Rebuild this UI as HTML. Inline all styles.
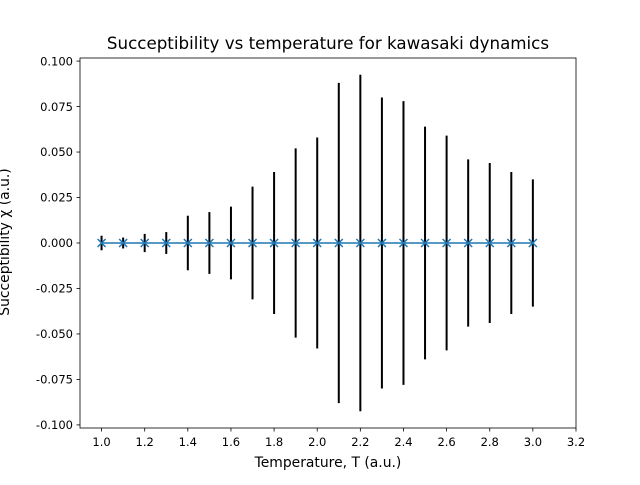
<!DOCTYPE html>
<html><head><meta charset="utf-8"><style>
body{margin:0;background:#fff;}
svg text{font-family:"DejaVu Sans","Liberation Sans",sans-serif;}
</style></head><body>
<svg id="chart" width="640" height="480" xmlns="http://www.w3.org/2000/svg">
<rect width="640" height="480" fill="#fff"/>
<text x="328" y="49" font-size="16.7" text-anchor="middle">Succeptibility vs temperature for kawasaki dynamics</text>
<text x="328" y="467" font-size="13.9" text-anchor="middle">Temperature, T (a.u.)</text>
<text transform="translate(9,242) rotate(-90)" font-size="13.9" text-anchor="middle">Succeptibility χ (a.u.)</text>
<g id="plot"></g>
<rect x="80" y="58" width="496" height="370" fill="none" stroke="#000" stroke-width="0.8"/>
</svg>
<script>
const temps=[1.0,1.1,1.2,1.3,1.4,1.5,1.6,1.7,1.8,1.9,2.0,2.1,2.2,2.3,2.4,2.5,2.6,2.7,2.8,2.9,3.0];
const chi=[0,0,0,0,0,0,0,0,0,0,0,0,0,0,0,0,0,0,0,0,0];
const errs=[0.004,0.003,0.005,0.006,0.015,0.017,0.020,0.031,0.039,0.052,0.058,0.088,0.0925,0.080,0.078,0.064,0.059,0.046,0.044,0.039,0.035];
const xTicks=[1.0,1.2,1.4,1.6,1.8,2.0,2.2,2.4,2.6,2.8,3.0,3.2];
const yTicks=[-0.1,-0.075,-0.05,-0.025,0,0.025,0.05,0.075,0.1];
const X0=80,X1=576,Y0=428,Y1=58,xmin=0.9,xmax=3.2,ymin=-0.1017,ymax=0.1017;
const sx=v=>X0+(v-xmin)/(xmax-xmin)*(X1-X0);
const sy=v=>Y0-(v-ymin)/(ymax-ymin)*(Y0-Y1);
const NS="http://www.w3.org/2000/svg",g=document.getElementById('plot');
function mk(t,a){const e=document.createElementNS(NS,t);for(const k in a)e.setAttribute(k,a[k]);g.appendChild(e);return e;}
xTicks.forEach(t=>{const x=sx(t);
 const l=mk('line',{x1:x,x2:x,y1:Y0,y2:Y0+3.5,stroke:'#000','stroke-width':0.8});
 
 
 const tx=mk('text',{x:x,y:Y0+18,'font-size':11.5,'text-anchor':'middle'});tx.textContent=t.toFixed(1);
 
 });
yTicks.forEach(t=>{const y=sy(t);
 const l=mk('line',{x1:X0-3.5,x2:X0,y1:y,y2:y,stroke:'#000','stroke-width':0.8});
 
 
 const tx=mk('text',{x:X0-7,y:y+4.2,'font-size':11.5,'text-anchor':'end'});tx.textContent=(Math.abs(t)<1e-9?0:t).toFixed(3);
 
 });
temps.forEach((t,i)=>{const x=sx(t);
 const e=mk('line',{x1:x,x2:x,y1:sy(chi[i]-errs[i]),y2:sy(chi[i]+errs[i]),stroke:'#000','stroke-width':2});
 
 });
const pts=temps.map((t,i)=>sx(t)+','+sy(chi[i])).join(' ');
const pl=mk('polyline',{points:pts,fill:'none',stroke:'#1f77b4','stroke-width':1.5});


temps.forEach((t,i)=>{const x=sx(t),y=sy(chi[i]),r=4;
 const m=mk('path',{d:`M${x-r},${y-r}L${x+r},${y+r}M${x-r},${y+r}L${x+r},${y-r}`,stroke:'#1f77b4','stroke-width':1.5});
 
 });
</script>
</body></html>
